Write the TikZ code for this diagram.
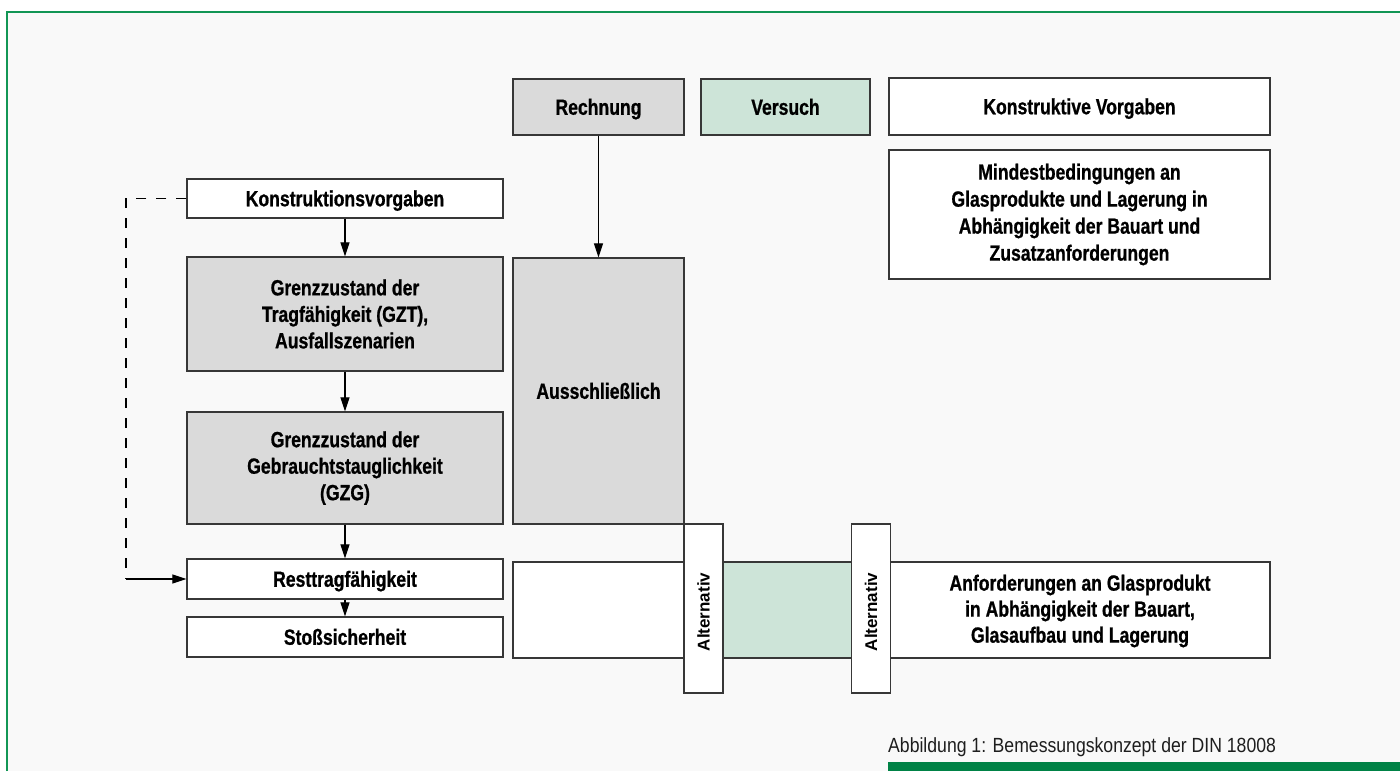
\documentclass[tikz,border=0pt]{standalone}
\usepackage{fontspec}
\setmainfont{Liberation Sans}
\newfontfamily\condfont{Liberation Sans}[FakeStretch=0.80, BoldFeatures={FakeBold=0.8}]
\newfontfamily\capfont{Liberation Sans}[FakeStretch=0.86]
\usetikzlibrary{arrows.meta}
\definecolor{bgc}{RGB}{249,249,249}
\definecolor{framegreen}{RGB}{18,150,85}
\definecolor{bargreen}{RGB}{0,130,70}
\definecolor{boxgray}{RGB}{218,218,218}
\definecolor{boxgreen}{RGB}{205,228,216}
\definecolor{edge}{RGB}{55,55,55}
\tikzset{
  box/.style={draw=edge, line width=1.3pt, fill=white, inner sep=0pt, align=center,
    font=\condfont\bfseries\fontsize{22}{26.5}\selectfont, text=black},
  oneline/.style={text height=15.5pt, text depth=0pt},
  graybox/.style={box, fill=boxgray},
  greenbox/.style={box, fill=boxgreen},
  altbox/.style={draw=edge, line width=1.3pt, fill=white, inner sep=0pt,
    minimum width=39pt, minimum height=169pt},
  alttext/.style={rotate=90, font=\bfseries\fontsize{17}{19}\selectfont, inner sep=0pt},
  arr/.style={draw=black, line width=1.2pt, -{Triangle[length=14pt,width=9pt]}},
  dashline/.style={draw=black, line width=1.2pt, dash pattern=on 10pt off 10pt},
}
\begin{document}
\begin{tikzpicture}[x=1pt,y=-1pt]
\useasboundingbox (0,0) rectangle (1400,771);
\fill[white] (0,0) rectangle (1400,771);
\fill[bgc] (7,12) rectangle (1400,771);
\draw[framegreen, line width=2pt] (7,771) -- (7,12) -- (1400,12);

% top row
\node[graybox, oneline, minimum width=171pt, minimum height=56pt] (rech) at (598.5,107) {Rechnung};
\node[greenbox, oneline, minimum width=169pt, minimum height=56pt] (vers) at (785.5,107) {Versuch};
\node[box, oneline, minimum width=381pt, minimum height=57pt] (kv) at (1079.5,106.5) {Konstruktive Vorgaben};
\node[box, minimum width=381pt, minimum height=129pt, font=\condfont\bfseries\fontsize{22}{27}\selectfont] (mind) at (1079.5,214.5)
  {Mindestbedingungen an\\Glasprodukte und Lagerung in\\Abhängigkeit der Bauart und\\Zusatzanforderungen};

% left column
\node[box, oneline, minimum width=316pt, minimum height=39pt] (konst) at (345,198.5) {Konstruktionsvorgaben};
\node[graybox, minimum width=316pt, minimum height=114pt] (gzt) at (345,314) {Grenzzustand der\\Tragfähigkeit (GZT),\\Ausfallszenarien};
\node[graybox, minimum width=316pt, minimum height=112pt] (gzg) at (345,468) {Grenzzustand der\\Gebrauchtstauglichkeit\\(GZG)};
\node[box, oneline, minimum width=316pt, minimum height=40pt] (rest) at (345,579) {Resttragfähigkeit};
\node[box, oneline, minimum width=316pt, minimum height=40pt] (stoss) at (345,637) {Stoßsicherheit};

% middle column
\node[graybox, oneline, minimum width=171pt, minimum height=266pt] (aus) at (598.5,391) {Ausschließlich};

% bottom row
\node[box, minimum width=757pt, minimum height=96pt] (row) at (891.5,610) {};
\node[fill=boxgreen, inner sep=0pt, minimum width=128pt, minimum height=94.5pt] (mid) at (787,610) {};
\node[font=\condfont\bfseries\fontsize{22}{26}\selectfont, align=center, inner sep=0pt] (anf) at (1080,611)
  {Anforderungen an Glasprodukt\\in Abhängigkeit der Bauart,\\Glasaufbau und Lagerung};
\node[altbox] (alt1) at (703.5,608.5) {};
\node[alttext] (alt1t) at (703.5,612) {Alternativ};
\node[altbox] (alt2) at (871,608.5) {};
\node[alttext] (alt2t) at (871,612) {Alternativ};

% connectors
\draw[arr] (rech.south) -- (aus.north);
\draw[arr] (konst.south) -- (gzt.north);
\draw[arr] (gzt.south) -- (gzg.north);
\draw[arr] (gzg.south) -- (rest.north);
\draw[arr] (rest.south) -- (stoss.north);
\coordinate (dc) at (126,579);
\draw[dashline] (konst.west) -| (dc);
\draw[arr] (dc) -- (rest.west);

% caption
\node[anchor=base west, inner sep=0pt, font=\capfont\fontsize{20.5}{24}\selectfont, text={rgb,255:red,30;green,30;blue,30}] (cap) at (888,752)
  {Abbildung 1: Bemessungskonzept der DIN 18008};
\fill[bargreen] (888,762) rectangle (1400,771);
\end{tikzpicture}
\end{document}
